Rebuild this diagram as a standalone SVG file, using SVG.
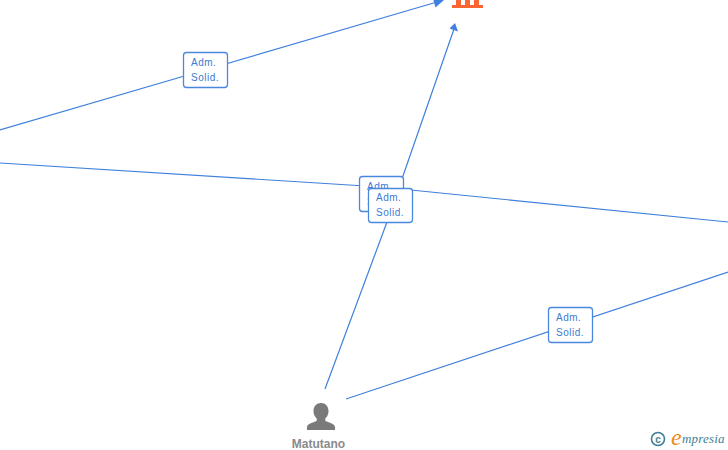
<svg xmlns="http://www.w3.org/2000/svg" width="728" height="450" viewBox="0 0 728 450">
<defs>
<style>
.c{fill:none;stroke:#3f80de;stroke-width:1.2}
.a{fill:#3f80de}
.b{fill:#fff;stroke:#4a88e0;stroke-width:1.3}
.t{font-family:"Liberation Sans",Arial,sans-serif;font-size:10px;fill:#3a7bd5;letter-spacing:.5px}
</style>
</defs>
<rect width="728" height="450" fill="#fff"/>
<g id="connectors">
<path class="c" d="M0 130L205 70L437 2"/>
<path class="a" d="M444 0L435.500 7.500L433.500 0Z"/>
<path class="c" d="M0 163L381 187L728 222"/>
<path class="c" d="M325 389L387 222L454 29"/>
<path class="a" d="M455 23L458 31.500L449.500 28.500Z"/>
<path class="c" d="M346 399L728 272"/>
</g>
<g id="edge-label-1"><rect class="b" x="183.500" y="52.500" width="44" height="35" rx="3"/><text class="t" x="191" y="66">Adm.</text><text class="t" x="191" y="81">Solid.</text></g>
<g id="edge-label-2"><rect class="b" x="359.500" y="176.500" width="44" height="35" rx="3"/><text class="t" x="367" y="190">Adm.</text><text class="t" x="367" y="205">Solid.</text></g>
<g id="edge-label-3"><rect class="b" x="368.500" y="188.500" width="44" height="34" rx="3"/><text class="t" x="376" y="201">Adm.</text><text class="t" x="376" y="216">Solid.</text></g>
<g id="edge-label-4"><rect class="b" x="548.500" y="307.500" width="44" height="35" rx="3"/><text class="t" x="556" y="321">Adm.</text><text class="t" x="556" y="336">Solid.</text></g>
<g id="node-company">
<path fill="#fb6532" d="M456 0h5v5h4v-5h5v5h4v-5h5v5h4v3h-31v-3h4z"/>
</g>
<g id="node-matutano">
<path fill="#7a7a7a" d="M321 403c-4.500 0-7.500 3.500-7.500 8c0 3 1.200 5.500 3.200 7.500v2.500c-4 1.500-9.700 3-9.700 6v3h28v-3c0-3-5.700-4.500-9.700-6v-2.500c2-2 3.200-4.500 3.200-7.500c0-4.500-3-8-7.500-8z"/>
<text x="318.500" y="448" text-anchor="middle" font-family="Liberation Sans,Arial,sans-serif" font-size="12" font-weight="bold" fill="#8a8a8a">Matutano</text>
</g>
<g id="watermark">
<circle cx="658" cy="439" r="6.500" fill="none" stroke="#3d7f96" stroke-width="1.600"/>
<text x="658" y="442.500" text-anchor="middle" font-family="Liberation Sans,Arial,sans-serif" font-size="10" font-weight="bold" fill="#3d7f96">c</text>
<text x="671" y="445" font-family="Liberation Serif,serif" font-style="italic" font-size="24" fill="#f08a1c">e</text>
<text x="682" y="443" font-family="Liberation Serif,serif" font-style="italic" font-size="13" fill="#3d7f96" letter-spacing=".2">mpresia</text>
</g>
</svg>
